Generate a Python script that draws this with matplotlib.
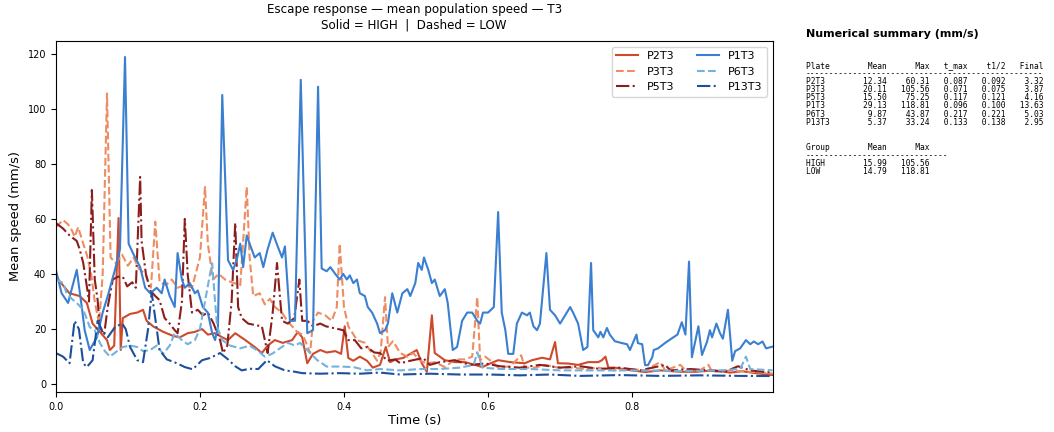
import numpy as np
import matplotlib
matplotlib.use("Agg")
import matplotlib.pyplot as plt

# ---- traces (time in s, speed in mm/s) ----
p2t3_t = [0.0, 0.019, 0.033, 0.043, 0.051, 0.061, 0.071, 0.075, 0.081, 0.087, 0.090, 0.093, 0.103, 0.113,
          0.121, 0.126, 0.135, 0.149, 0.163, 0.172, 0.183, 0.193, 0.203, 0.211, 0.221, 0.231, 0.239, 0.249,
          0.263, 0.276, 0.286, 0.294, 0.304, 0.315, 0.328, 0.336, 0.342, 0.349, 0.357, 0.367, 0.376, 0.388,
          0.396, 0.401, 0.406, 0.413, 0.422, 0.432, 0.440, 0.450, 0.458, 0.464, 0.472, 0.482, 0.492, 0.501,
          0.508, 0.515, 0.522, 0.526, 0.540, 0.554, 0.568, 0.582, 0.592, 0.603, 0.614, 0.631, 0.651, 0.661,
          0.675, 0.686, 0.693, 0.697, 0.711, 0.725, 0.739, 0.753, 0.758, 0.763, 0.767, 0.776, 0.794, 0.818,
          0.839, 0.867, 0.888, 0.915, 0.936, 0.953, 0.971, 0.995]
p2t3_v = [39, 33, 32, 29.5, 22, 19, 16, 12.4, 14, 60.31, 12.4, 24, 25.5, 26,
          27, 23, 21, 19, 17.5, 17, 18.5, 19, 20, 18, 18.5, 17, 16, 18.5,
          16, 13.5, 11.3, 14, 16, 15, 16, 19, 17, 7.6, 11, 12.4, 11.5, 12,
          11, 21, 9.5, 8.5, 10, 8.5, 6, 7, 13.5, 8, 9, 9.5, 11, 12.4,
          7.6, 4.5, 25, 11.3, 8.7, 8, 8, 7, 6.2, 7.5, 8.7, 8, 7.6, 8.7,
          9.6, 9, 15.3, 7.6, 7.5, 7, 8, 8, 8.7, 10, 6, 6, 5.2, 4.4,
          5, 4.5, 4.5, 5, 4.2, 4.7, 4, 3.32]

p3t3_t = [0.0, 0.010, 0.017, 0.022, 0.026, 0.031, 0.038, 0.043, 0.049, 0.054, 0.060, 0.065, 0.071, 0.076,
          0.083, 0.092, 0.100, 0.108, 0.115, 0.124, 0.132, 0.138, 0.144, 0.153, 0.161, 0.169, 0.179, 0.189,
          0.200, 0.207, 0.211, 0.218, 0.226, 0.235, 0.244, 0.256, 0.265, 0.269, 0.274, 0.283, 0.290, 0.297,
          0.304, 0.314, 0.321, 0.328, 0.335, 0.342, 0.346, 0.353, 0.357, 0.364, 0.374, 0.383, 0.390, 0.394,
          0.400, 0.406, 0.418, 0.429, 0.439, 0.446, 0.451, 0.457, 0.461, 0.468, 0.478, 0.488, 0.496, 0.506,
          0.515, 0.526, 0.540, 0.554, 0.568, 0.578, 0.585, 0.589, 0.596, 0.606, 0.614, 0.631, 0.646, 0.651,
          0.665, 0.679, 0.697, 0.717, 0.735, 0.753, 0.776, 0.797, 0.818, 0.839, 0.846, 0.867, 0.874, 0.894,
          0.906, 0.911, 0.936, 0.964, 0.995]
p3t3_v = [57, 59.6, 58, 56, 53.5, 57, 51, 47, 40, 30, 22, 40, 105.56, 46,
          44, 47, 43, 46, 42, 40, 35, 59, 37, 36, 38, 35, 36, 35,
          46, 71.6, 51, 38, 40, 38, 37, 36, 71.6, 46, 32, 33, 29, 31,
          28, 26, 23, 21, 19, 18, 16, 11.3, 23, 26, 25, 23, 28, 51,
          28, 21, 16, 15, 11.3, 8.5, 12, 31.6, 13.5, 15.6, 11.3, 10, 11.3, 8.5,
          7.5, 8, 6.2, 9, 9, 10, 31.6, 8.7, 10, 8, 6, 6.5, 10.5, 6,
          6, 7, 6, 6, 5.5, 6, 5, 5.5, 5, 8, 5, 7, 5, 5,
          7, 4.5, 5, 4.5, 3.87]

p5t3_t = [0.0, 0.010, 0.019, 0.029, 0.033, 0.038, 0.043, 0.046, 0.050, 0.054, 0.058, 0.061, 0.067, 0.072,
          0.079, 0.086, 0.093, 0.099, 0.106, 0.111, 0.117, 0.119, 0.125, 0.131, 0.138, 0.144, 0.151, 0.158,
          0.165, 0.169, 0.175, 0.179, 0.183, 0.189, 0.197, 0.204, 0.211, 0.219, 0.228, 0.232, 0.238, 0.244,
          0.249, 0.253, 0.258, 0.267, 0.276, 0.286, 0.294, 0.301, 0.307, 0.314, 0.322, 0.331, 0.338, 0.342,
          0.349, 0.357, 0.367, 0.375, 0.385, 0.399, 0.406, 0.415, 0.424, 0.432, 0.442, 0.450, 0.460, 0.471,
          0.478, 0.492, 0.510, 0.519, 0.533, 0.554, 0.575, 0.596, 0.617, 0.644, 0.672, 0.700, 0.728, 0.756,
          0.783, 0.811, 0.846, 0.853, 0.881, 0.908, 0.929, 0.947, 0.964, 0.995]
p5t3_v = [58.5, 56.5, 54, 52, 49, 44, 35.5, 30, 70.5, 38, 30.5, 20.7, 18, 28,
          38, 39, 39, 35.5, 37, 35, 75.25, 52, 40, 34, 32, 30.5, 24, 22,
          19.6, 18.5, 30, 60, 40, 26, 27, 25, 26, 22, 16, 11.3, 14, 30,
          58.5, 28, 24, 22, 21.5, 21, 11.3, 26, 44, 23, 22, 24, 38, 23,
          23, 21, 22, 21, 20.4, 19.6, 16, 16, 13, 13.5, 11.5, 11.3, 8.5, 9,
          7.6, 8.5, 9.5, 7, 8, 8.7, 7, 7.5, 6.5, 6, 7, 6, 6.5, 5.5,
          6, 5, 7, 5, 5.5, 5, 4.5, 6.5, 5, 4.16]

p1t3_t = [0.0, 0.008, 0.017, 0.029, 0.036, 0.040, 0.047, 0.057, 0.065, 0.072, 0.082, 0.089, 0.096, 0.101,
          0.107, 0.117, 0.124, 0.131, 0.140, 0.147, 0.151, 0.158, 0.165, 0.169, 0.175, 0.179, 0.186, 0.193,
          0.197, 0.204, 0.211, 0.217, 0.221, 0.225, 0.231, 0.239, 0.246, 0.251, 0.256, 0.260, 0.265, 0.269,
          0.276, 0.283, 0.288, 0.294, 0.301, 0.308, 0.314, 0.318, 0.325, 0.332, 0.340, 0.349, 0.357, 0.364,
          0.369, 0.376, 0.381, 0.388, 0.394, 0.399, 0.404, 0.408, 0.413, 0.418, 0.422, 0.429, 0.433, 0.439,
          0.446, 0.450, 0.457, 0.461, 0.467, 0.474, 0.481, 0.488, 0.492, 0.499, 0.503, 0.508, 0.511, 0.517,
          0.522, 0.526, 0.533, 0.540, 0.544, 0.551, 0.557, 0.564, 0.571, 0.578, 0.585, 0.589, 0.593, 0.600,
          0.608, 0.614, 0.619, 0.624, 0.628, 0.635, 0.640, 0.647, 0.654, 0.658, 0.663, 0.668, 0.672, 0.681,
          0.686, 0.693, 0.700, 0.707, 0.714, 0.718, 0.725, 0.732, 0.738, 0.743, 0.746, 0.753, 0.756, 0.760,
          0.765, 0.769, 0.776, 0.786, 0.793, 0.797, 0.801, 0.806, 0.808, 0.814, 0.818, 0.822, 0.828, 0.830,
          0.836, 0.846, 0.856, 0.863, 0.869, 0.874, 0.879, 0.883, 0.892, 0.897, 0.904, 0.908, 0.911, 0.917,
          0.922, 0.926, 0.933, 0.939, 0.943, 0.950, 0.958, 0.964, 0.969, 0.975, 0.981, 0.986, 0.995]
p1t3_v = [41.5, 33, 29.5, 41.5, 28, 19.6, 12.4, 17, 26, 32, 41.5, 49, 118.81, 51,
          47.6, 42.5, 35, 33, 35, 33, 38, 32, 28, 47.6, 38, 35, 36.7, 33,
          34, 28, 26, 18.5, 16, 20.7, 105, 45, 41.5, 45, 51, 42.5, 54, 51,
          46, 47.6, 42.5, 49, 55, 50, 46, 50, 23, 23, 110.5, 18.5, 19.6, 108,
          42, 41, 42.5, 40, 38, 40, 38, 39.5, 36.7, 38, 33, 32, 28, 26,
          22, 18.5, 19.6, 22, 33, 26, 33, 34.5, 32, 36.7, 44, 41.5, 46, 41.5,
          36.7, 38, 32, 34.5, 29.5, 12.4, 13.5, 23, 26, 26, 23, 22, 26, 26,
          28, 62.5, 26, 19.6, 11, 11, 22, 26, 25, 26, 21, 19.6, 22, 47.6,
          27, 25, 22, 25, 28, 26, 22, 12.4, 13.5, 44, 19.6, 17, 19, 17,
          20.4, 18, 15.6, 14.9, 14.5, 12.4, 14.9, 18, 14.9, 14.5, 6.9, 6.9, 9.8, 12.4,
          13, 15, 16.8, 18, 22.5, 18, 44.5, 9.8, 21, 10.6, 15.4, 19.6, 17, 22,
          18.5, 16.5, 27, 8.5, 12, 13, 16, 14.5, 15.5, 14.5, 15.5, 13, 13.63]

p6t3_t = [0.0, 0.010, 0.015, 0.022, 0.029, 0.038, 0.044, 0.047, 0.054, 0.061, 0.068, 0.075, 0.085, 0.093,
          0.103, 0.113, 0.121, 0.131, 0.140, 0.149, 0.158, 0.165, 0.175, 0.183, 0.193, 0.200, 0.207, 0.214,
          0.217, 0.221, 0.224, 0.231, 0.242, 0.256, 0.269, 0.281, 0.290, 0.300, 0.311, 0.322, 0.332, 0.339,
          0.353, 0.363, 0.376, 0.394, 0.413, 0.432, 0.450, 0.478, 0.506, 0.533, 0.561, 0.580, 0.585, 0.592,
          0.617, 0.658, 0.700, 0.756, 0.811, 0.867, 0.922, 0.950, 0.958, 0.964, 0.995]
p6t3_v = [38, 36.7, 33, 31, 29.5, 27, 23, 20.7, 19.6, 15, 12, 10, 12, 13.5,
          14, 13.5, 12, 12.4, 14, 11, 14, 18.5, 16, 14.5, 16, 20, 30, 40,
          43.87, 30, 20.7, 16, 14, 13, 14, 12, 10, 11, 13, 15, 14, 15,
          11.3, 8.7, 6.4, 6.4, 6.2, 5, 5.5, 5, 5.5, 5.5, 6, 7, 11.6, 6,
          5.5, 5.5, 5, 5, 5, 4.8, 5, 5.5, 10, 5.5, 5.03]

p13t3_t = [0.0, 0.010, 0.019, 0.026, 0.032, 0.038, 0.043, 0.051, 0.058, 0.065, 0.072, 0.082, 0.092, 0.097,
           0.103, 0.113, 0.121, 0.128, 0.133, 0.139, 0.144, 0.154, 0.168, 0.179, 0.190, 0.203, 0.214, 0.228,
           0.239, 0.249, 0.258, 0.269, 0.281, 0.293, 0.304, 0.318, 0.332, 0.342, 0.367, 0.394, 0.422, 0.450,
           0.478, 0.519, 0.561, 0.603, 0.644, 0.686, 0.728, 0.783, 0.839, 0.894, 0.950, 0.995]
p13t3_v = [11.3, 10, 7.6, 23, 20, 7.6, 6.2, 8.7, 23, 19, 17, 20.7, 22, 20,
           13.5, 8.7, 8, 20, 33.24, 22, 12.4, 9, 7.6, 6.2, 5.4, 8.7, 9.5, 11.3,
           9, 6.5, 5, 5.6, 5.5, 8.7, 6.5, 5, 4.5, 4, 3.8, 4, 3.8, 4.2,
           3.5, 3.8, 3.5, 3.5, 3.2, 3.5, 3, 3.3, 3, 3.2, 3, 2.95]

# ---- summary numbers ----
plates = ["P2T3", "P3T3", "P5T3", "P1T3", "P6T3", "P13T3"]
means = [12.34, 20.11, 15.50, 29.13, 9.87, 5.37]
maxes = [60.31, 105.56, 75.25, 118.81, 43.87, 33.24]
t_maxes = [0.087, 0.071, 0.117, 0.096, 0.217, 0.133]
t_halves = [0.092, 0.075, 0.121, 0.100, 0.221, 0.138]
finals = [3.32, 3.87, 4.16, 13.63, 5.03, 2.95]
groups = ["HIGH", "LOW"]
group_means = [15.99, 14.79]
group_maxes = [105.56, 118.81]

series = [
    (p2t3_t, p2t3_v, "#cd4a2c", "-"),
    (p3t3_t, p3t3_v, "#ee8c62", "--"),
    (p5t3_t, p5t3_v, "#8c1d1d", "-."),
    (p1t3_t, p1t3_v, "#3a7fd0", "-"),
    (p6t3_t, p6t3_v, "#72b2dd", "--"),
    (p13t3_t, p13t3_v, "#1d4f9c", "-."),
]

fig = plt.figure(figsize=(10.54, 4.32), dpi=100)
ax = fig.add_axes([0.053, 0.0926, 0.680, 0.8125])

for name, (t, v, col, ls) in zip(plates, series):
    ax.plot(t, v, color=col, linestyle=ls, linewidth=1.5, label=name)

ax.set_xlim(0, 0.995)
ax.set_xticks([0.0, 0.2, 0.4, 0.6, 0.8])
ax.tick_params(labelsize=7)
ax.set_xlabel("Time (s)", fontsize=9.4, labelpad=2)
ax.set_ylabel("Mean speed (mm/s)", fontsize=9.4)
ax.set_title("Escape response \u2014 mean population speed \u2014 T3\nSolid = HIGH  |  Dashed = LOW",
             fontsize=8.6, pad=9)
ax.legend(loc="upper right", ncol=2, fontsize=8, handlelength=2.0, columnspacing=2.0)

# ---- text summary on the right ----
lines = ["%-7s%10s%9s%8s%8s%8s" % ("Plate", "Mean", "Max", "t_max", "t1/2", "Final"), "-" * 50]
for i in range(len(plates)):
    lines.append("%-7s%10.2f%9.2f%8.3f%8.3f%8.2f" % (plates[i], means[i], maxes[i],
                                                     t_maxes[i], t_halves[i], finals[i]))
glines = ["%-7s%10s%9s" % ("Group", "Mean", "Max"), "-" * 30]
for i in range(len(groups)):
    glines.append("%-7s%10.2f%9.2f" % (groups[i], group_means[i], group_maxes[i]))

fig.text(806 / 1054, 1 - 29 / 432, "Numerical summary (mm/s)", fontsize=8, fontweight="bold",
         va="top", ha="left")
fig.text(806 / 1054, 1 - 61 / 432, "\n".join(lines), family="DejaVu Sans Mono", fontsize=5.7,
         va="top", ha="left", linespacing=0.87)
fig.text(806 / 1054, 1 - 143 / 432, "\n".join(glines), family="DejaVu Sans Mono", fontsize=5.7,
         va="top", ha="left", linespacing=0.87)

fig.savefig("out.png", dpi=100)
